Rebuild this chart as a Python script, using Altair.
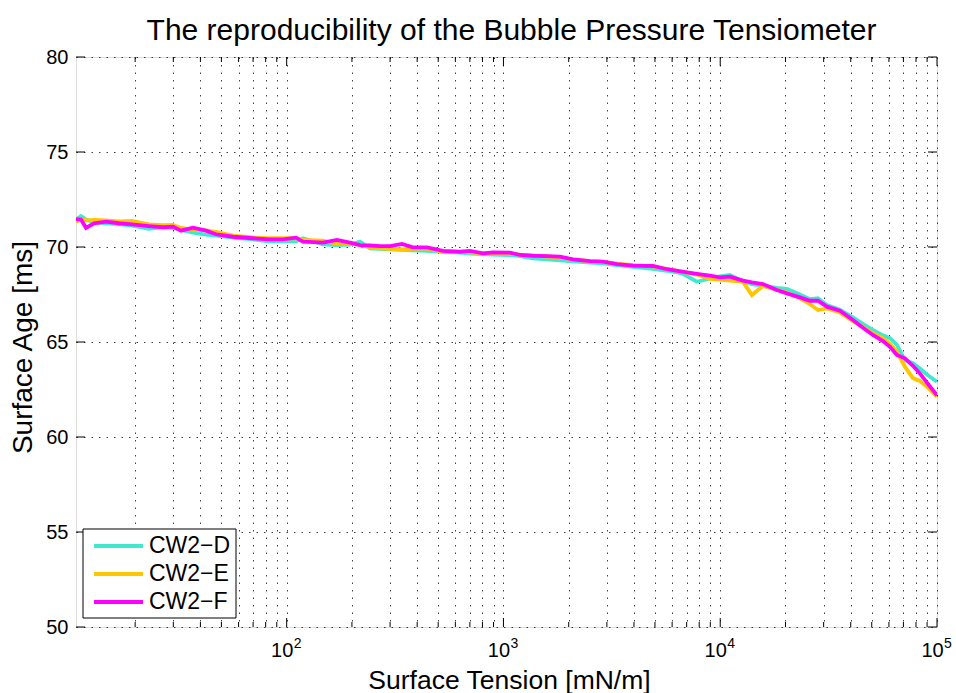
import altair as alt
import pandas as pd

FONT = "Liberation Sans"

# ---- data ----
x_vals = [10.67, 11.25, 11.87, 12.92, 14.68, 16.85, 19.34, 23.16, 26.88, 29.89,
          32.54, 36.97, 42.45, 47.2, 56.54, 69.9, 82.9, 96.1, 110.4, 118.9,
          147.1, 170.6, 195.9, 217.8, 242.3, 269.4, 299.6, 340.2, 382.4, 443.8,
          525.9, 630.3, 700.8, 804.4, 894.4, 1071.5, 1191.6, 1368.6, 1587.5, 1822.5,
          2092.6, 2506, 2877, 3338, 3956, 4893, 5678, 6657, 7808, 8965,
          9968, 11085, 12728, 14006, 15735, 18262, 20304, 23316, 25922, 28223,
          31063, 35659, 40937, 45519, 50613, 56282, 60656, 65313, 71109, 77430,
          83394, 90784, 100000]

d_vals = [71.45, 71.63, 71.45, 71.3, 71.25, 71.2, 71.12, 70.95, 71.05, 71.0,
          70.9, 70.75, 70.65, 70.6, 70.5, 70.4, 70.3, 70.3, 70.3, 70.46,
          70.14, 70.1, 70.12, 70.28, 69.93, 69.9, 69.88, 69.85, 69.82, 69.8,
          69.75, 69.7, 69.65, 69.62, 69.6, 69.58, 69.52, 69.4, 69.35, 69.3,
          69.25, 69.18, 69.14, 69.05, 68.95, 68.85, 68.75, 68.61, 68.17, 68.35,
          68.45, 68.53, 68.2, 68.05, 67.95, 67.85, 67.8, 67.5, 67.25, 67.3,
          66.95, 66.7, 66.3, 65.95, 65.63, 65.35, 65.2, 64.85, 64.05, 63.88,
          63.6, 63.25, 62.91]

e_vals = [71.33, 71.45, 71.4, 71.42, 71.4, 71.35, 71.37, 71.19, 71.15, 71.16,
          71.0, 70.92, 70.88, 70.8, 70.6, 70.5, 70.46, 70.46, 70.46, 70.37,
          70.33, 70.16, 70.2, 70.1, 70.0, 69.93, 69.9, 69.88, 69.9, 69.93,
          69.75, 69.74, 69.72, 69.67, 69.67, 69.67, 69.6, 69.55, 69.5, 69.45,
          69.35, 69.25, 69.22, 69.12, 69.05, 68.98, 68.85, 68.7, 68.55, 68.32,
          68.28, 68.23, 68.18, 67.47, 67.95, 67.74, 67.6, 67.3, 67.0, 66.68,
          66.77, 66.55, 66.1, 65.8, 65.46, 65.2, 64.9, 64.5, 63.7, 63.1,
          62.95, 62.6, 62.12]

f_vals = [71.47, 71.45, 71.0, 71.25, 71.33, 71.25, 71.19, 71.1, 71.04, 71.07,
          70.86, 71.02, 70.86, 70.67, 70.54, 70.46, 70.4, 70.4, 70.49, 70.28,
          70.23, 70.37, 70.23, 70.1, 70.08, 70.05, 70.05, 70.16, 69.98, 69.98,
          69.8, 69.75, 69.8, 69.67, 69.72, 69.7, 69.58, 69.54, 69.52, 69.49,
          69.35, 69.26, 69.23, 69.1, 69.02, 69.0, 68.83, 68.7, 68.58, 68.49,
          68.4, 68.44, 68.23, 68.14, 68.05, 67.74, 67.56, 67.35, 67.17, 67.17,
          66.86, 66.65, 66.16, 65.75, 65.37, 65.05, 64.75, 64.32, 64.14, 63.75,
          63.35, 62.8, 62.2]

series_names = ["CW2\u2212D", "CW2\u2212E", "CW2\u2212F"]
series_colors = ["#40E8D0", "#FFC600", "#FF00FF"]

title_text = "The reproducibility of the Bubble Pressure Tensiometer"
x_title = "Surface Tension [mN/m]"
y_title = "Surface Age [ms]"

y_ticks = [50, 55, 60, 65, 70, 75, 80]
x_major = [100, 1000, 10000, 100000]
x_exponents = ["2", "3", "4", "5"]
x_minor = [m * 10 ** k for k in (1, 2, 3, 4) for m in range(2, 10)]

# ---- build table ----
rows = []
for name, vals in zip(series_names, [d_vals, e_vals, f_vals]):
    for xv, yv in zip(x_vals, vals):
        rows.append({"tension": xv, "age": yv, "series": name})
df = pd.DataFrame(rows)

W, H = 861, 570
x_scale = alt.Scale(type="log", domain=[x_vals[0], 100000], nice=False)
y_scale = alt.Scale(domain=[50, 80], nice=False, zero=False)
color_scale = alt.Scale(domain=series_names, range=series_colors)

grid_style = dict(grid=True, gridDash=[1.5, 6], gridColor="#000000", gridOpacity=0.75, gridWidth=1)

x_axis = alt.Axis(values=x_minor + x_major, ticks=False, labels=False, domain=False,
                  title=x_title, titleFontSize=26.5, titleFont=FONT,
                  titleFontWeight="normal", titleColor="black", titleBaseline="alphabetic",
                  titleX=433, titleY=61, **grid_style)
y_axis = alt.Axis(values=y_ticks, ticks=False, domain=False, labelFontSize=20,
                  labelFont=FONT, labelColor="black", labelPadding=8,
                  title=y_title, titleFontSize=28, titleFont=FONT,
                  titleFontWeight="normal", titleColor="black", titleAngle=270,
                  titleBaseline="alphabetic", titleX=-45, titleY=290, **grid_style)

lines = alt.Chart(df).mark_line(strokeWidth=3.8, clip=True).encode(
    x=alt.X("tension:Q", scale=x_scale, axis=x_axis),
    y=alt.Y("age:Q", scale=y_scale, axis=y_axis),
    color=alt.Color("series:N", scale=color_scale, legend=None),
)

maj_df = pd.DataFrame({"tension": x_major, "base": ["10"] * len(x_major), "exp": x_exponents})
min_df = pd.DataFrame({"tension": x_minor})
y_df = pd.DataFrame({"age": y_ticks})

def xrule(data, y1, y2):
    return alt.Chart(data).mark_rule(color="black", strokeWidth=1).encode(
        x=alt.X("tension:Q", scale=x_scale, axis=x_axis), y=alt.value(y1), y2=alt.value(y2))

def yrule(x1, x2):
    return alt.Chart(y_df).mark_rule(color="black", strokeWidth=1).encode(
        y=alt.Y("age:Q", scale=y_scale, axis=y_axis), x=alt.value(x1), x2=alt.value(x2))

ticks = [
    xrule(maj_df, H, H - 9), xrule(maj_df, 0, 9),
    xrule(min_df, H, H - 5), xrule(min_df, 0, 5),
    yrule(0, 9), yrule(W, W - 9),
]

lab_base = alt.Chart(maj_df).mark_text(fontSize=20, font=FONT, align="center",
                                       baseline="alphabetic", dx=-4.5, color="black").encode(
    x=alt.X("tension:Q", scale=x_scale, axis=x_axis), y=alt.value(600), text="base:N")
lab_exp = alt.Chart(maj_df).mark_text(fontSize=14, font=FONT, align="left",
                                      baseline="alphabetic", dx=7, color="black").encode(
    x=alt.X("tension:Q", scale=x_scale, axis=x_axis), y=alt.value(591), text="exp:N")

one = pd.DataFrame({"k": [0]})
title_layer = alt.Chart(one).mark_text(text=title_text, fontSize=30, font=FONT, align="center",
                                       baseline="alphabetic", color="black").encode(
    x=alt.value(W / 2 + 5), y=alt.value(-17))

legend_layers = [
    alt.Chart(one).mark_rect(fill="white", stroke="black", strokeWidth=1).encode(
        x=alt.value(7), x2=alt.value(160), y=alt.value(472), y2=alt.value(561))
]
for i, (name, col) in enumerate(zip(series_names, series_colors)):
    yy = 489 + 28 * i
    legend_layers.append(
        alt.Chart(one).mark_rule(color=col, strokeWidth=3.8).encode(
            x=alt.value(18), x2=alt.value(67), y=alt.value(yy)))
    legend_layers.append(
        alt.Chart(one).mark_text(text=name, align="left", baseline="middle", fontSize=23,
                                 font=FONT, color="black").encode(
            x=alt.value(73), y=alt.value(yy)))

chart = alt.layer(lines, *ticks, lab_base, lab_exp, title_layer, *legend_layers).properties(
    width=W, height=H,
    padding={"left": 76, "top": 57, "right": 19, "bottom": 66},
    autosize=alt.AutoSizeParams(type="none"),
).configure_view(stroke="black", strokeWidth=1.2).configure(background="white")

chart.save("out.html", embed_options={"renderer": "svg", "actions": False})
